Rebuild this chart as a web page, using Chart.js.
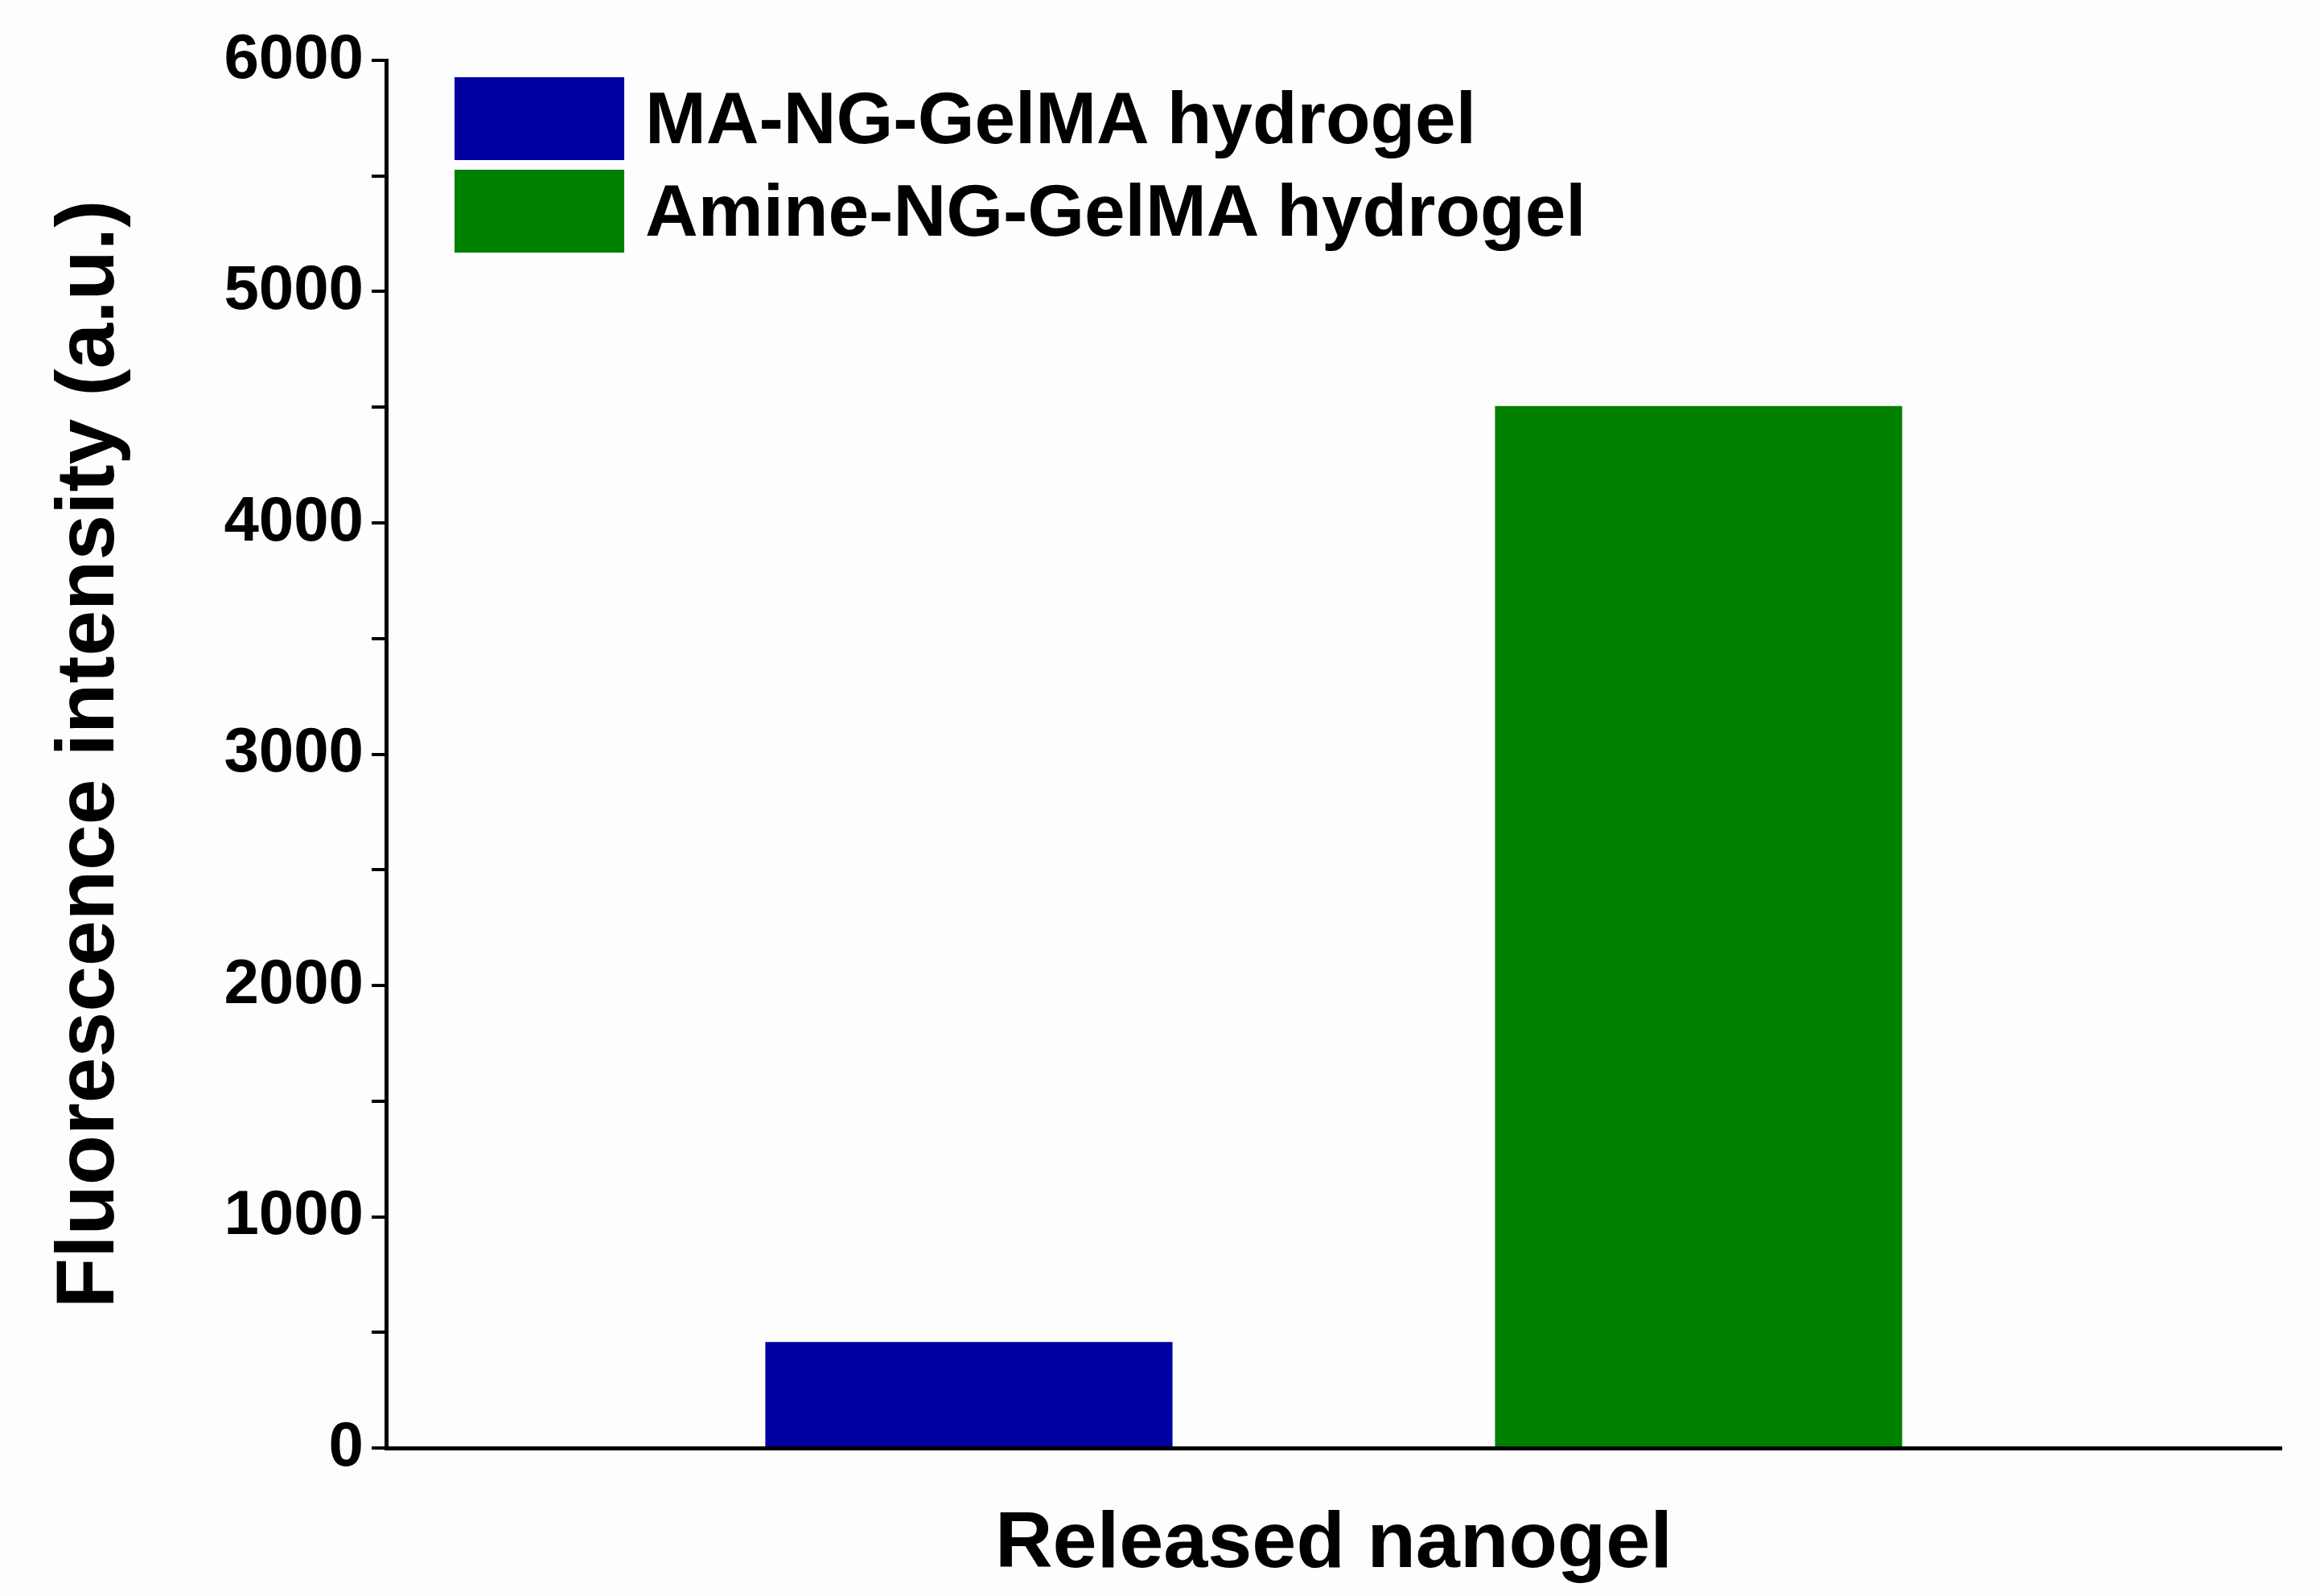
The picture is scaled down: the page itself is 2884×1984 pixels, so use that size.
<!DOCTYPE html>
<html>
<head>
<meta charset="utf-8">
<script src="https://cdn.jsdelivr.net/npm/chart.js@4/dist/chart.umd.min.js"></script>
<style>
  html, body { margin: 0; padding: 0; background: #fdfdfd; }
  #wrap { position: relative; width: 2884px; height: 1984px; }
  .leg { position: absolute; left: 565px; display: flex; align-items: center;
         font: bold 91px "Liberation Sans", Arial, sans-serif; color: #000; }
  .leg span.box { width: 211px; height: 103px; margin-right: 26px; display: inline-block; }
</style>
</head>
<body>
<div id="wrap">
  <canvas id="c" width="2884" height="1984"></canvas>
  <div class="leg" style="top:95px"><span class="box" style="background:#0000a0"></span>MA-NG-GelMA hydrogel</div>
  <div class="leg" style="top:210px"><span class="box" style="background:#008000"></span>Amine-NG-GelMA hydrogel</div>
</div>
<script>
// Data
const categories = ['Released nanogel'];
const seriesNames = ['MA-NG-GelMA hydrogel', 'Amine-NG-GelMA hydrogel'];
const seriesValues = [[458], [4505]];
const seriesColors = ['#0000a0', '#008000'];
const yTicks = [0, 1000, 2000, 3000, 4000, 5000, 6000];

const FONT = '"Liberation Sans", Arial, sans-serif';

new Chart(document.getElementById('c').getContext('2d'), {
    type: 'bar',
    data: {
        labels: categories,
        datasets: seriesNames.map((name, i) => ({
            label: name,
            data: seriesValues[i],
            backgroundColor: seriesColors[i],
            borderWidth: 0,
            categoryPercentage: 0.77,
            barPercentage: 0.558,
        })),
    },
    options: {
        responsive: false,
        animation: false,
        devicePixelRatio: 1,
        layout: {padding: {top: 75, right: 48, left: 0, bottom: 0}},
        plugins: {legend: {display: false}, tooltip: {enabled: false}},
        scales: {
            x: {
                grid: {display: false, drawTicks: false},
                border: {color: '#000', width: 5},
                ticks: {display: false},
                title: {display: true, text: 'Released nanogel', color: '#000',
                        font: {family: FONT, weight: 'bold', size: 99}, padding: {top: 50}},
                afterFit(scale) { scale.height = 184; },
            },
            y: {
                min: yTicks[0],
                max: yTicks[yTicks.length - 1],
                grid: {display: true, drawOnChartArea: false, drawTicks: true, tickLength: 18, color: '#000', lineWidth: 4},
                border: {color: '#000', width: 5},
                ticks: {
                    stepSize: 500,
                    color: '#000',
                    padding: 10,
                    font: {family: FONT, weight: 'bold', size: 78},
                    callback: v => yTicks.includes(v) ? String(v) : '',
                },
                title: {display: true, text: 'Fluorescence intensity (a.u.)', color: '#000',
                        font: {family: FONT, weight: 'bold', size: 102}, padding: {top: 52, bottom: 0}},
                afterFit(scale) { scale.width = 480; },
            },
        },
    },
});
</script>
</body>
</html>
